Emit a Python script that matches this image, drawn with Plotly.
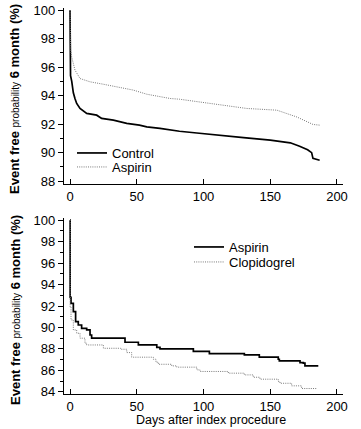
import plotly.graph_objects as go

# ---- data ----
top_control_days = [0, 0.4, 1.3, 2.5, 3.7, 5, 7.5, 10, 12.5, 20, 23.7, 32.5, 42.5, 52, 57.5, 67.4, 82, 95, 114.6, 130, 150, 165, 172, 178, 181, 182, 187]
top_control_vals = [100, 95.4, 95.0, 94.2, 93.8, 93.45, 93.1, 92.9, 92.75, 92.63, 92.4, 92.28, 92.05, 91.93, 91.81, 91.7, 91.5, 91.38, 91.18, 91.05, 90.88, 90.69, 90.45, 90.2, 90.0, 89.6, 89.47]
top_aspirin_days = [0, 0.5, 1.3, 3.7, 7.5, 15, 25, 37.5, 47.4, 57.5, 67.4, 75, 82, 107, 132.5, 155, 170, 182, 187]
top_aspirin_vals = [100, 97.2, 96.7, 95.8, 95.2, 94.97, 94.8, 94.6, 94.39, 94.1, 93.92, 93.8, 93.75, 93.45, 93.1, 92.98, 92.5, 91.98, 91.93]

bot_aspirin_days = [0, 0.1, 0.75, 2.5, 4.2, 6.2, 8.7, 12.5, 15, 16.2, 41.2, 51.2, 65, 67.4, 92.4, 104.4, 130.6, 141.8, 156, 156.8, 172.3, 174.8, 176, 186]
bot_aspirin_vals = [100, 92.8, 92.25, 91.47, 90.54, 90.23, 89.92, 89.77, 89.3, 89.0, 88.62, 88.37, 88.15, 88.0, 87.78, 87.56, 87.44, 87.23, 87.04, 86.88, 86.73, 86.67, 86.42, 86.42]
bot_clop_days = [0, 0.1, 0.75, 2.5, 5, 7.5, 11.2, 12.5, 25, 38, 42.5, 46.2, 62.4, 64.4, 66.2, 76.2, 80, 95, 97.4, 118.6, 130.6, 137.3, 142.3, 156, 157.3, 166, 173.5, 184.8]
bot_clop_vals = [100, 91.9, 90.7, 89.77, 89.46, 89.0, 88.53, 88.37, 88.06, 87.97, 87.66, 87.23, 87.04, 86.76, 86.57, 86.42, 86.3, 86.05, 85.9, 85.74, 85.58, 85.36, 85.18, 84.96, 84.8, 84.56, 84.31, 84.25]

x_ticks = [0, 50, 100, 150, 200]
top_y_ticks = [88, 90, 92, 94, 96, 98, 100]
bot_y_ticks = [84, 86, 88, 90, 92, 94, 96, 98, 100]

FONT = "Liberation Sans, Arial, sans-serif"
solid = dict(color="black", width=1.7)
dotted = dict(color="#7a7a7a", width=1.0, dash="1px,1.2px")

fig = go.Figure()
fig.add_trace(go.Scatter(x=top_control_days, y=top_control_vals, mode="lines", line=solid,
                         name="Control", xaxis="x", yaxis="y", legend="legend"))
fig.add_trace(go.Scatter(x=top_aspirin_days, y=top_aspirin_vals, mode="lines", line=dotted,
                         name="Aspirin", xaxis="x", yaxis="y", legend="legend2"))
fig.add_trace(go.Scatter(x=bot_aspirin_days, y=bot_aspirin_vals, mode="lines", line=solid, line_shape="hv",
                         name="Aspirin", xaxis="x2", yaxis="y2", legend="legend3"))
fig.add_trace(go.Scatter(x=bot_clop_days, y=bot_clop_vals, mode="lines", line=dotted, line_shape="hv",
                         name="Clopidogrel", xaxis="x2", yaxis="y2", legend="legend4"))

W, H = 361, 429
ml, mr, mt, mb = 64, 18, 8, 35
ph = H - mt - mb
pw = W - ml - mr

def ydom(top_px, bot_px):
    return [(H - mb - bot_px) / ph, (H - mb - top_px) / ph]

def px_x(x):
    return (x - ml) / pw

def px_y(y):
    return (H - mb - y) / ph

xcommon = dict(range=[-4.5, 204.5], tickvals=x_ticks, ticks="inside", ticklen=5, tickcolor="black",
               showline=True, linecolor="black", linewidth=1.2, showgrid=False, zeroline=False,
               automargin=False, tickfont=dict(family=FONT, size=13, color="black"))
ycommon = dict(ticks="outside", ticklen=5, tickcolor="black", showline=True, linecolor="black",
               linewidth=1.2, showgrid=False, zeroline=False, automargin=False,
               tickfont=dict(family=FONT, size=13, color="black"),
               minor=dict(dtick=1, ticks="outside", ticklen=3, tickcolor="black"))

def leg(xp, yp):
    return dict(x=px_x(xp), y=px_y(yp), xanchor="left", yanchor="middle", bgcolor="rgba(0,0,0,0)",
                font=dict(family=FONT, size=13, color="black"), itemwidth=30)

fig.update_layout(
    width=W, height=H, margin=dict(l=ml, r=mr, t=mt, b=mb, autoexpand=False),
    plot_bgcolor="white", paper_bgcolor="white",
    xaxis=dict(**xcommon, anchor="y", domain=[0, 1]),
    yaxis=dict(**ycommon, range=[87.8, 100.15], tickvals=top_y_ticks, anchor="x", domain=ydom(8, 184)),
    xaxis2=dict(**xcommon, anchor="y2", domain=[0, 1]),
    yaxis2=dict(**ycommon, range=[83.8, 100.2], tickvals=bot_y_ticks, anchor="x2", domain=ydom(218, 394)),
    legend=leg(72, 153),
    legend2=leg(72, 167),
    legend3=leg(189, 247),
    legend4=leg(189, 262),
    showlegend=True,
)

ytitle = ("<b>Event free</b> <span style='font-size:10px'>probability</span> <b>6 month (%)</b>")
for cy in [99, 310]:
    fig.add_annotation(text=ytitle, xref="paper", yref="paper", textangle=-90,
                       x=px_x(15), y=px_y(cy), xanchor="center", yanchor="middle",
                       showarrow=False, font=dict(family=FONT, size=13, color="black"))
fig.add_annotation(text="Days after index procedure", xref="paper", yref="paper",
                   x=px_x(211), y=px_y(420), xanchor="center", yanchor="middle",
                   showarrow=False, font=dict(family=FONT, size=12.5, color="black"))

fig.write_html("out.html", config={"displayModeBar": False},
               post_script="document.body.style.margin='0px';")
